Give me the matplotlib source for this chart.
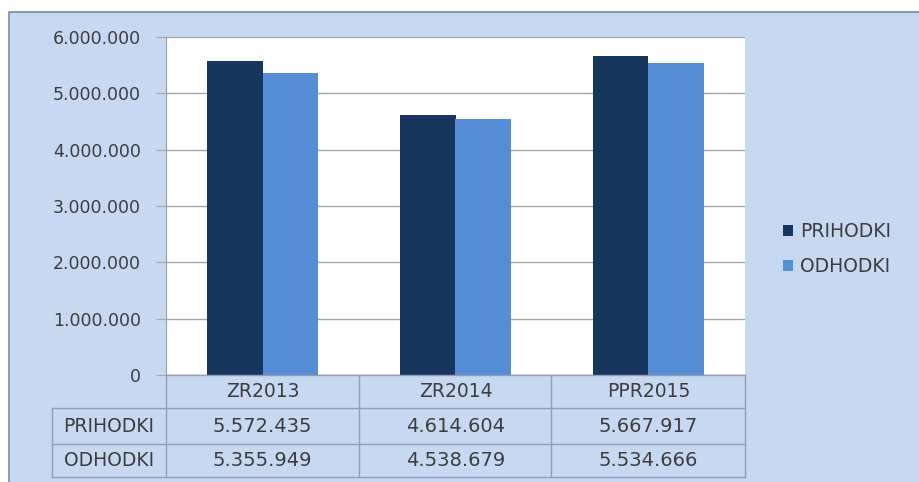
import matplotlib
matplotlib.use("Agg")
import matplotlib.pyplot as plt
import numpy as np
from matplotlib.patches import Rectangle, Patch
import matplotlib.transforms as mtransforms

categories = ["ZR2013", "ZR2014", "PPR2015"]
series_names = ["PRIHODKI", "ODHODKI"]
prihodki = [5572435, 4614604, 5667917]
odhodki = [5355949, 4538679, 5534666]
yticks = [0, 1000000, 2000000, 3000000, 4000000, 5000000, 6000000]

DARK = "#17375E"
LIGHT = "#558ED5"
BG = "#C6D9F1"
TXT = "#3d3d3d"
LINE = "#8f9fb6"

def fmt(v):
    return f"{v:,}".replace(",", ".")

W, H = 920, 482
fig = plt.figure(figsize=(W / 100, H / 100), dpi=100)
fig.patch.set_facecolor("white")

def fx(px):
    return px / W

def fy(py):
    return 1 - py / H

# background panel
fig.patches.append(Rectangle((fx(9), -0.01), 1 - fx(9) + 0.01, fy(12) + 0.01, transform=fig.transFigure,
                             facecolor=BG, edgecolor="#7d8ca3", linewidth=1.2, zorder=-10))

L, R, T, B = 166, 745, 37, 375
ax = fig.add_axes([fx(L), fy(B), fx(R - L), (B - T) / H])
ax.set_facecolor("white")
x = np.arange(len(categories))
bw = 0.285
ax.bar(x - bw / 2, prihodki, bw, color=DARK, label=series_names[0], zorder=3)
ax.bar(x + bw / 2, odhodki, bw, color=LIGHT, label=series_names[1], zorder=3)
ax.set_xlim(-0.5, len(categories) - 0.5)
ax.set_ylim(0, 6000000)
ax.set_yticks(yticks)
ax.set_yticklabels([fmt(v) for v in yticks], fontsize=12.5, color=TXT)
ax.set_xticks([])
ax.yaxis.grid(True, color="#a6a6a6", linewidth=1.0, zorder=0)
ax.set_axisbelow(True)
for s in ["top", "right", "bottom"]:
    ax.spines[s].set_visible(False)
ax.spines["left"].set_color(LINE)
ax.tick_params(axis="y", length=7, color="#a6a6a6", pad=11)

# overlay for table (pixel coords)
ov = fig.add_axes([0, 0, 1, 1], facecolor="none")
ov.patch.set_visible(False)
ov.set_xlim(0, W)
ov.set_ylim(H, 0)
ov.axis("off")

rows_y = [B, 408, 444, 477]
col_x = [L, 359, 551, R]
lab_x = 52
lw = 1.0
ov.plot([L, R], [rows_y[0], rows_y[0]], color=LINE, lw=lw)
for yy in rows_y[1:]:
    ov.plot([lab_x, R], [yy, yy], color=LINE, lw=lw)
for xx in col_x:
    ov.plot([xx, xx], [rows_y[0], rows_y[-1]], color=LINE, lw=lw)
ov.plot([lab_x, lab_x], [rows_y[1], rows_y[-1]], color=LINE, lw=lw)

blend = mtransforms.blended_transform_factory(ax.transData, ov.transData)
for i, c in enumerate(categories):
    ov.text(i, (rows_y[0] + rows_y[1]) / 2, c, transform=blend, ha="center", va="center",
            fontsize=13.5, color=TXT)
    ov.text(i, (rows_y[1] + rows_y[2]) / 2, fmt(prihodki[i]), transform=blend, ha="center",
            va="center", fontsize=14, color=TXT)
    ov.text(i, (rows_y[2] + rows_y[3]) / 2, fmt(odhodki[i]), transform=blend, ha="center",
            va="center", fontsize=14, color=TXT)
for j, name in enumerate(series_names):
    ov.text((lab_x + L) / 2, (rows_y[j + 1] + rows_y[j + 2]) / 2, name, ha="center",
            va="center", fontsize=13.5, color=TXT)

handles = [Patch(facecolor=DARK), Patch(facecolor=LIGHT)]
fig.legend(handles, series_names, loc="center left", bbox_to_anchor=(fx(766), fy(249)),
           frameon=False, fontsize=13.5, handlelength=0.55, handleheight=0.55,
           handletextpad=0.35, labelspacing=0.85, labelcolor=TXT)

fig.savefig("out.png", dpi=100, facecolor=fig.get_facecolor())
